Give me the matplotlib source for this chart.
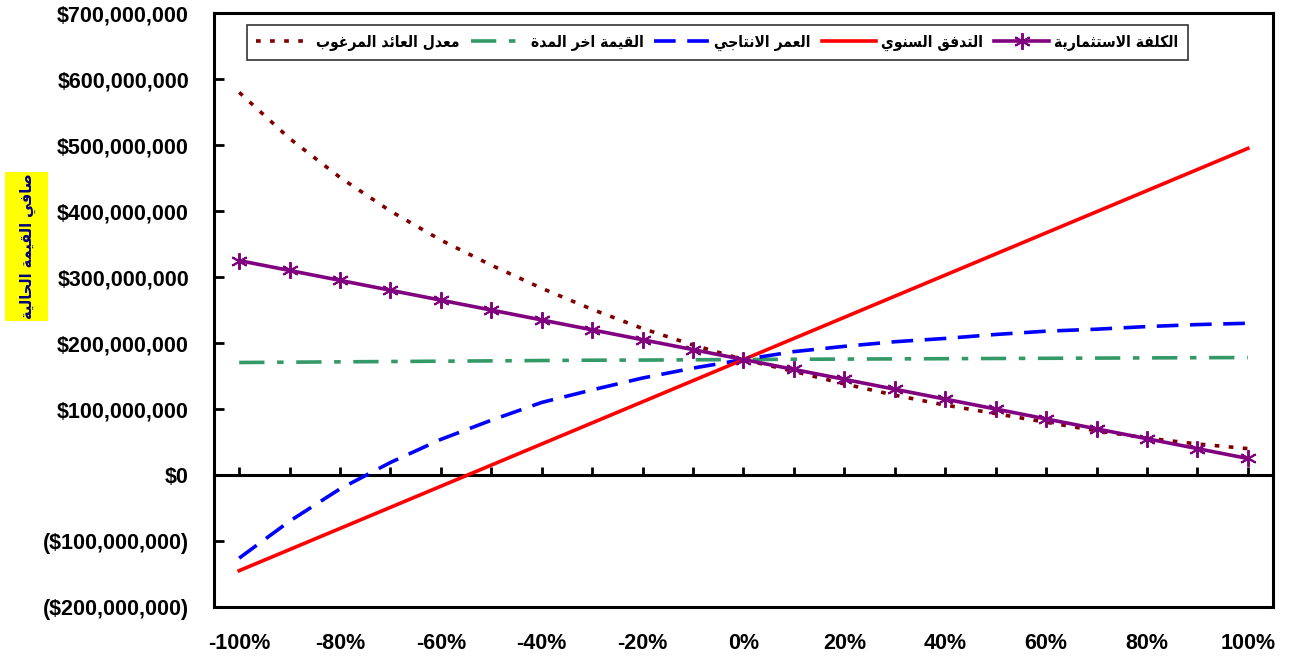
import matplotlib.pyplot as plt
from matplotlib.patches import Rectangle
from matplotlib.ticker import FuncFormatter


# sensitivity of NPV to a change in each input, -100% .. +100%
change_pct = [-100, -90, -80, -70, -60, -50, -40, -30, -20, -10, 0,
              10, 20, 30, 40, 50, 60, 70, 80, 90, 100]

# NPV in millions of dollars
investment_cost = [325, 310, 295, 280, 265, 250, 235, 220, 205, 190, 175,
                   160, 145, 130, 115, 100, 85, 70, 55, 40, 25]
annual_flow = [-145, -113, -81, -49, -17, 15, 47, 79, 111, 143, 175,
               207, 239, 271, 303, 335, 367, 399, 431, 463, 495]
useful_life = [-126, -70, -21, 19, 54, 83, 110, 129, 147, 162, 175,
               187, 195, 202, 207, 213, 218, 221, 225, 228, 230]
salvage_value = [170.5, 171, 171.5, 172, 172.5, 173, 173.5, 174, 174.2, 174.6, 175,
                 175.4, 175.7, 176, 176.3, 176.6, 176.9, 177.2, 177.5, 177.8, 178]
required_rate = [580, 510, 451, 400, 356, 318, 283, 251, 222, 197, 175,
                 157, 138, 121, 106, 93, 80, 67, 56, 47, 40]

labels = {
    "cost": "الكلفة الاستثمارية",
    "flow": "التدفق السنوي",
    "life": "العمر الانتاجي",
    "salvage": "القيمة اخر المدة",
    "rate": "معدل العائد المرغوب",
}
y_title = "صافي القيمة الحالية"


# --- minimal arabic shaping (matplotlib draws glyphs left to right, unshaped) ---
# letter -> (isolated form, number of forms: 4 = dual joining, 2 = right joining)
FORMS = {
    "ا": (0xFE8D, 2), "ب": (0xFE8F, 4), "ة": (0xFE93, 2), "ت": (0xFE95, 4),
    "ث": (0xFE99, 4), "ج": (0xFE9D, 4), "ح": (0xFEA1, 4), "خ": (0xFEA5, 4),
    "د": (0xFEA9, 2), "ذ": (0xFEAB, 2), "ر": (0xFEAD, 2), "ز": (0xFEAF, 2),
    "س": (0xFEB1, 4), "ش": (0xFEB5, 4), "ص": (0xFEB9, 4), "ض": (0xFEBD, 4),
    "ط": (0xFEC1, 4), "ظ": (0xFEC5, 4), "ع": (0xFEC9, 4), "غ": (0xFECD, 4),
    "ف": (0xFED1, 4), "ق": (0xFED5, 4), "ك": (0xFED9, 4), "ل": (0xFEDD, 4),
    "م": (0xFEE1, 4), "ن": (0xFEE5, 4), "ه": (0xFEE9, 4), "و": (0xFEED, 2),
    "ى": (0xFEEF, 2), "ي": (0xFEF1, 4), "ئ": (0xFE89, 4),
}


def shape(text):
    out = []
    chars = list(text)
    i = 0
    while i < len(chars):
        c = chars[i]
        if c not in FORMS:
            out.append(c)
            i += 1
            continue
        prev = chars[i - 1] if i > 0 else ""
        joins_prev = prev in FORMS and FORMS[prev][1] == 4
        # lam + alef ligature
        if c == "ل" and i + 1 < len(chars) and chars[i + 1] == "ا":
            out.append(chr(0xFEFC if joins_prev else 0xFEFB))
            i += 2
            continue
        base, n = FORMS[c]
        nxt = chars[i + 1] if i + 1 < len(chars) else ""
        joins_next = n == 4 and nxt in FORMS
        if joins_prev and joins_next:
            code = base + 3
        elif joins_next:
            code = base + 2
        elif joins_prev:
            code = base + 1
        else:
            code = base
        out.append(chr(code))
        i += 1
    return "".join(out)[::-1]


def money(v, pos):
    if v < 0:
        return "(${:,.0f})".format(-v)
    return "${:,.0f}".format(v)


plt.rcParams["font.family"] = ["Liberation Sans", "DejaVu Sans"]

fig = plt.figure(figsize=(12.89, 6.59), dpi=100)
ax = fig.add_axes([0.166, 0.079, 0.8216, 0.901])

M = 1e6
ax.plot(change_pct, [v * M for v in required_rate], color="#800000", lw=2.6,
        dashes=(1.3, 2.6), label=shape(labels["rate"]))
ax.plot(change_pct, [v * M for v in salvage_value], color="#339966", lw=2.6,
        dashes=(7, 3.5, 1.8, 3.5), label=shape(labels["salvage"]))
ax.plot(change_pct, [v * M for v in useful_life], color="#0000FF", lw=2.6,
        dashes=(6, 3.2), label=shape(labels["life"]))
ax.plot(change_pct, [v * M for v in annual_flow], color="#FF0000", lw=2.6,
        label=shape(labels["flow"]))
ax.plot(change_pct, [v * M for v in investment_cost], color="#800080", lw=2.6,
        marker=(6, 2, 0), markersize=12, markeredgewidth=1.4,
        label=shape(labels["cost"]))

ax.set_xlim(-105, 105)
ax.set_ylim(-200 * M, 700 * M)
ax.set_yticks([v * M for v in range(-200, 701, 100)])
ax.yaxis.set_major_formatter(FuncFormatter(money))
ax.set_xticks(change_pct[::2])
ax.set_xticklabels(["{}%".format(p) for p in change_pct[::2]])

for s in ax.spines.values():
    s.set_linewidth(2.2)
ax.tick_params(axis="y", direction="in", length=7, width=2, pad=18,
               labelsize=15.5)
ax.tick_params(axis="x", length=0, pad=19, labelsize=15.5)
for t in ax.get_xticklabels() + ax.get_yticklabels():
    t.set_fontweight("bold")

# category axis drawn through zero with its tick marks pointing up
zero_axis = ax.secondary_xaxis(200 / 900)
zero_axis.spines["bottom"].set_linewidth(2.2)
zero_axis.set_xticks(change_pct)
zero_axis.tick_params(direction="in", length=6, width=2, labelbottom=False)

# axis title on a yellow panel
fig.patches.append(Rectangle((5 / 1289, 1 - 321 / 659), 43 / 1289, 149 / 659,
                             transform=fig.transFigure, facecolor="#FFFF00",
                             edgecolor="none"))
fig.text(28 / 1289, 1 - 246 / 659, shape(y_title), rotation=90,
         ha="center", va="center", fontsize=11.6, fontweight="bold",
         fontstretch="condensed", color="#000080", family="DejaVu Sans")

leg = ax.legend(loc="upper left", bbox_to_anchor=(0.0312, 0.98), ncol=5,
                frameon=True, fancybox=False, edgecolor="black",
                borderaxespad=0, handlelength=3.5, columnspacing=0.7,
                handletextpad=0.35, borderpad=0.6,
                prop={"family": "DejaVu Sans", "weight": "bold",
                      "stretch": "condensed", "size": 11.2})
leg.get_frame().set_linewidth(1.2)

fig.savefig("out.png", dpi=100)
